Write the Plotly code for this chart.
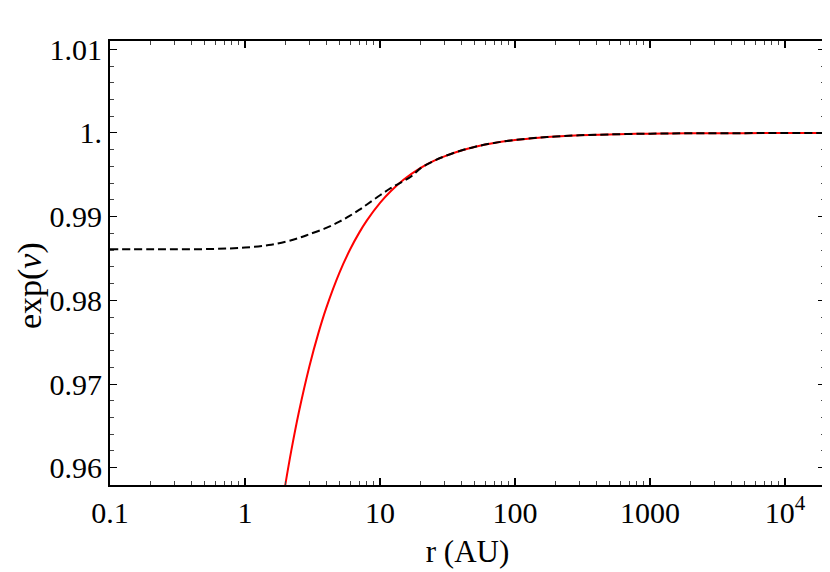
import plotly.graph_objects as go

# Red solid curve (outer solution)
r_outer = [1.98, 2.2, 2.5, 3, 3.5, 4, 5, 6, 7, 8, 10, 12, 15, 20, 25, 30, 40, 50, 70,
           100, 150, 200, 300, 500, 1000, 2000, 5000, 10000, 20000]
exp_nu_outer = [0.95778, 0.96200, 0.96656, 0.97213, 0.97611, 0.97910, 0.98328, 0.98607,
                0.98806, 0.98955, 0.99164, 0.99303, 0.99443, 0.99582, 0.99666, 0.99721,
                0.99791, 0.99833, 0.99881, 0.99916, 0.99944, 0.99958, 0.99972, 0.99983,
                0.99992, 0.99996, 0.99998, 0.99999, 1.00000]

# Black dashed curve (full solution)
r_full = [0.1, 0.2, 0.3, 0.6, 1, 1.5, 2, 2.5, 3, 4, 5, 6, 7, 8, 10, 12, 14, 17, 20, 25,
          30, 40, 50, 70, 100, 150, 200, 300, 500, 1000, 2000, 5000, 10000, 20000]
exp_nu_full = [0.98609, 0.98609, 0.98610, 0.98614, 0.98630, 0.98660, 0.98700, 0.98745,
               0.98790, 0.98865, 0.98940, 0.99012, 0.99080, 0.99145, 0.99255, 0.99340,
               0.99400, 0.99480, 0.99580, 0.99666, 0.99721, 0.99791, 0.99833, 0.99881,
               0.99916, 0.99944, 0.99958, 0.99972, 0.99983, 0.99992, 0.99996, 0.99998,
               0.99999, 1.00000]

x_tickvals = [0.1, 1, 10, 100, 1000, 10000]
x_ticktext = ["0.1", "1", "10", "100", "1000", "10<sup>4</sup>"]
y_tickvals = [0.96, 0.97, 0.98, 0.99, 1.0, 1.01]
y_ticktext = ["0.96", "0.97", "0.98", "0.99", "1.", "1.01"]

x_minor = [m * 10 ** e for e in range(-1, 5) for m in range(2, 10)]
y_minor = [round(0.958 + 0.002 * i, 4) for i in range(0, 28)]

fig = go.Figure()
fig.add_trace(go.Scatter(x=r_outer, y=exp_nu_outer, mode="lines",
                         line=dict(color="#ff0000", width=2, shape="spline"),
                         showlegend=False))
fig.add_trace(go.Scatter(x=r_full, y=exp_nu_full, mode="lines",
                         line=dict(color="black", width=2, dash="8px,4px", shape="spline"),
                         showlegend=False))

serif = "Liberation Serif, Times New Roman, serif"
tick_font = dict(family=serif, size=30, color="black")
title_font = dict(family=serif, size=31, color="black")

fig.update_layout(
    width=822, height=564,
    margin=dict(l=102, r=5, t=33, b=87, autoexpand=False),
    paper_bgcolor="white", plot_bgcolor="white",
    font=tick_font,
    xaxis=dict(
        type="log", range=[-1, 4.296],
        tickvals=x_tickvals, ticktext=x_ticktext,
        ticks="inside", ticklen=7, tickwidth=2, tickcolor="black",
        showline=True, linewidth=2, linecolor="black", mirror="allticks",
        showgrid=False, zeroline=False,
        minor=dict(tickvals=x_minor, ticks="inside", ticklen=4, tickwidth=1,
                   tickcolor="#444", showgrid=False),
        title=dict(text="r (AU)", font=title_font, standoff=12),
        tickfont=tick_font,
    ),
    yaxis=dict(
        range=[0.95793, 1.01099],
        tickvals=y_tickvals, ticktext=y_ticktext,
        ticks="inside", ticklen=7, tickwidth=1, tickcolor="black",
        showline=True, linewidth=2, linecolor="black", mirror="allticks",
        showgrid=False, zeroline=False,
        minor=dict(tickvals=y_minor, ticks="inside", ticklen=4, tickwidth=1,
                   tickcolor="#444", showgrid=False),
        tickfont=tick_font,
    ),
    annotations=[dict(
        text="exp(<i>ν</i>)", xref="paper", yref="paper",
        x=-0.112, y=0.45, xanchor="center", yanchor="middle",
        textangle=-90, showarrow=False,
        font=dict(family=serif, size=34, color="black"),
    )],
)

fig.write_html("out.html")
